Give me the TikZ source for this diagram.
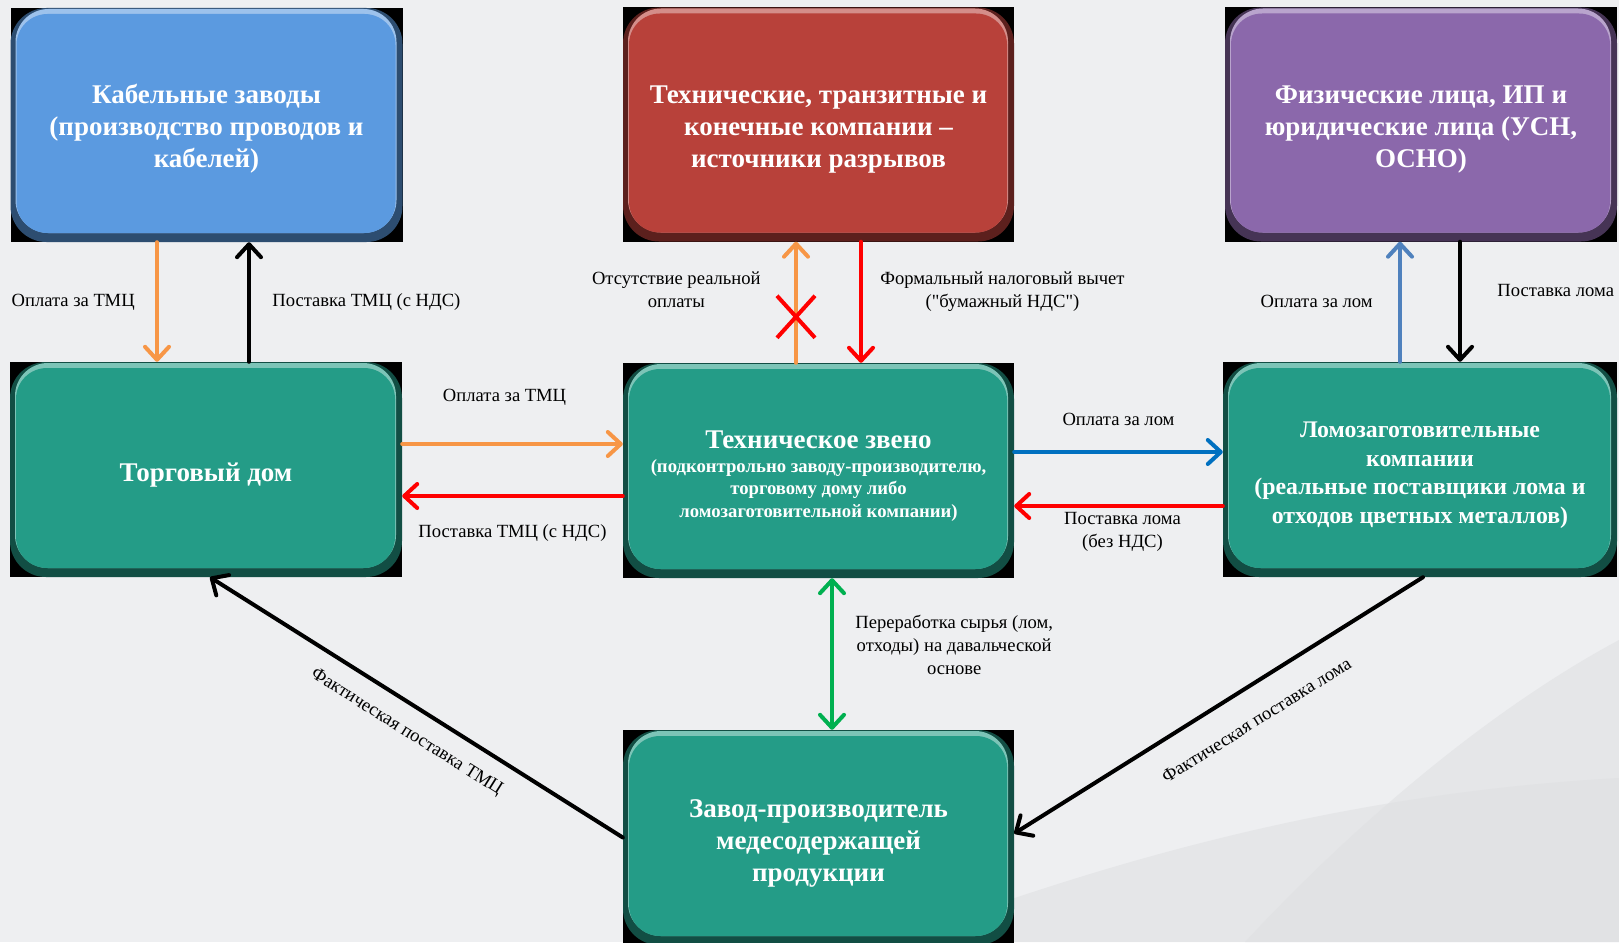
\documentclass[tikz,border=0pt]{standalone}
\usepackage{fontspec}
\setmainfont{Liberation Serif}
\newfontfamily\rawserif{Liberation Serif}
\usetikzlibrary{arrows.meta,positioning}

\definecolor{bggray}{HTML}{EEEFF1}
\definecolor{swoosh}{HTML}{DFE0E2}
\definecolor{kabblue}{HTML}{5B9AE0}
\definecolor{techred}{HTML}{B8413A}
\definecolor{fizpurple}{HTML}{8B68AB}
\definecolor{zvteal}{HTML}{249C87}
\definecolor{arrorange}{HTML}{F79646}
\definecolor{arrblue}{HTML}{4F81BD}
\definecolor{arrblue2}{HTML}{0070C0}
\definecolor{arrgreen}{HTML}{00B050}

\newcommand{\dq}{{\rawserif"}}
\newcommand{\boxstrut}[1]{\rule{0pt}{#1}}

\begin{document}
\begin{tikzpicture}[x=1pt, y=-1pt,
box/.style={fill=black, inner sep=0pt, minimum width=392pt, minimum height=234pt,
    text=white, align=center, font=\bfseries\fontsize{27}{32}\selectfont,
    path picture={
      \fill[#1!50!black, rounded corners=36pt] (path picture bounding box.north west) rectangle (path picture bounding box.south east);
      \fill[#1!60!white, rounded corners=33pt] ([shift={(5,1)}]path picture bounding box.north west) rectangle ([shift={(-6,-9)}]path picture bounding box.south east);
      \fill[#1, rounded corners=31pt] ([shift={(6,6)}]path picture bounding box.north west) rectangle ([shift={(-7,-9)}]path picture bounding box.south east);
    }},
lbl/.style={font=\fontsize{18.6}{23}\selectfont, align=center, text=black},
arr/.style={line width=4pt, line cap=round, -{Straight Barb[length=13pt, width=24pt, round]}},
darr/.style={line width=4pt, line cap=round, {Straight Barb[length=13pt, width=24pt, round]}-{Straight Barb[length=13pt, width=24pt, round]}},
]
\useasboundingbox (0,0) rectangle (1619,942);
\fill[bggray] (0,0) rectangle (1619,942);
% background swooshes
\fill[swoosh, opacity=0.6] (900,942) -- (1000,903) .. controls (1200,835) and (1400,790) .. (1619,778) -- (1619,942) -- cycle;
\fill[swoosh, opacity=0.6] (1245,942) .. controls (1330,850) and (1470,720) .. (1619,640) -- (1619,942) -- cycle;

% top row
\node[box=kabblue] (kab) at (206.5,125) {\boxstrut{27pt}Кабельные заводы\\(производство проводов и\\кабелей)};
\node[box=techred, minimum width=391pt] (tech) at (818.5,124.5) {\boxstrut{27pt}Технические, транзитные и\\конечные компании –\\источники разрывов};
\node[box=fizpurple] (fiz) at (1421,124.5) {\boxstrut{27pt}Физические лица, ИП и\\юридические лица (УСН,\\ОСНО)};

% middle row
\node[box=zvteal, minimum height=215pt] (td) at (206,469.5) {\boxstrut{29pt}Торговый дом};
\node[box=zvteal, minimum width=391pt, minimum height=215pt, font=\bfseries\fontsize{18.7}{22.5}\selectfont] (zveno) at (818.5,470.5)
  {{\fontsize{27}{30}\selectfont\boxstrut{28pt}Техническое звено}\\[1.5pt]
   (подконтрольно заводу-производителю,\\торговому дому либо\\ломозаготовительной компании)};
\node[box=zvteal, minimum width=394pt, minimum height=215pt, font=\bfseries\fontsize{23.8}{28.5}\selectfont] (lom) at (1420,469.5)
  {\boxstrut{27pt}Ломозаготовительные\\компании\\(реальные поставщики лома и\\отходов цветных металлов)};

% bottom
\node[box=zvteal, minimum width=391pt, minimum height=215pt] (zavod) at (818.5,837.5)
  {\boxstrut{30pt}Завод-производитель\\медесодержащей\\продукции};

% top left pair
\draw[arr, arrorange] ([xshift=-49.5pt]kab.south) -- ([xshift=-49pt]td.north)
  node[lbl, midway, left=17pt] {Оплата за ТМЦ};
\draw[arr, black] ([xshift=43pt]td.north) -- ([xshift=42.5pt]kab.south)
  node[lbl, midway, right=18pt] {Поставка ТМЦ (с НДС)};

% top middle pair
\draw[arr, arrorange] ([xshift=-22.5pt]zveno.north) -- ([xshift=-22.5pt]tech.south)
  coordinate[pos=0.38] (nopay)
  node[lbl, pos=0.6, left=30pt] {Отсутствие реальной\\оплаты};
\draw[red, line width=4pt] ([shift={(-19,-21)}]nopay) -- ([shift={(19,21)}]nopay)
  ([shift={(19,-21)}]nopay) -- ([shift={(-19,21)}]nopay);
\draw[arr, red] ([xshift=42.5pt]tech.south) -- ([xshift=42.5pt]zveno.north)
  node[lbl, pos=0.41, right=14pt] {Формальный налоговый вычет\\(\dq бумажный НДС\dq)};

% top right pair
\draw[arr, arrblue] ([xshift=-20pt]lom.north) -- ([xshift=-21pt]fiz.south)
  node[lbl, midway, left=22pt] {Оплата за лом};
\draw[arr, black] ([xshift=39pt]fiz.south) -- ([xshift=40pt]lom.north)
  node[lbl, pos=0.41, right=32pt] {Поставка лома};

% horizontal links
\draw[arr, arrorange] ([yshift=25.5pt]td.east) -- ([yshift=26.5pt]zveno.west)
  node[lbl, midway, above=33pt, xshift=-8pt] {Оплата за ТМЦ};
\draw[arr, red] ([yshift=-25.5pt]zveno.west) -- ([yshift=-26.5pt]td.east)
  node[lbl, midway, below=23pt] {Поставка ТМЦ (с НДС)};
\draw[arr, arrblue2] ([yshift=18.5pt]zveno.east) -- ([yshift=17.5pt]lom.west)
  node[lbl, midway, above=21pt] {Оплата за лом};
\draw[arr, red] ([yshift=-36.5pt]lom.west) -- ([yshift=-35.5pt]zveno.east)
  node[lbl, midway, below=1pt, xshift=4pt] {Поставка лома\\(без НДС)};

% processing
\draw[darr, arrgreen] ([xshift=13.5pt]zveno.south) -- ([xshift=13.5pt]zavod.north)
  node[lbl, pos=0.44, right=18pt] {Переработка сырья (лом,\\отходы) на давальческой\\основе};

% actual deliveries
\draw[arr, black] (zavod.west) -- ([xshift=4pt]td.south)
  node[lbl, sloped, pos=0.49, below=13pt] {Фактическая поставка ТМЦ};
\draw[arr, black] ([xshift=3pt]lom.south) -- ([yshift=4pt]zavod.east)
  node[lbl, sloped, pos=0.45, below=21pt] {Фактическая поставка лома};
\end{tikzpicture}
\end{document}
